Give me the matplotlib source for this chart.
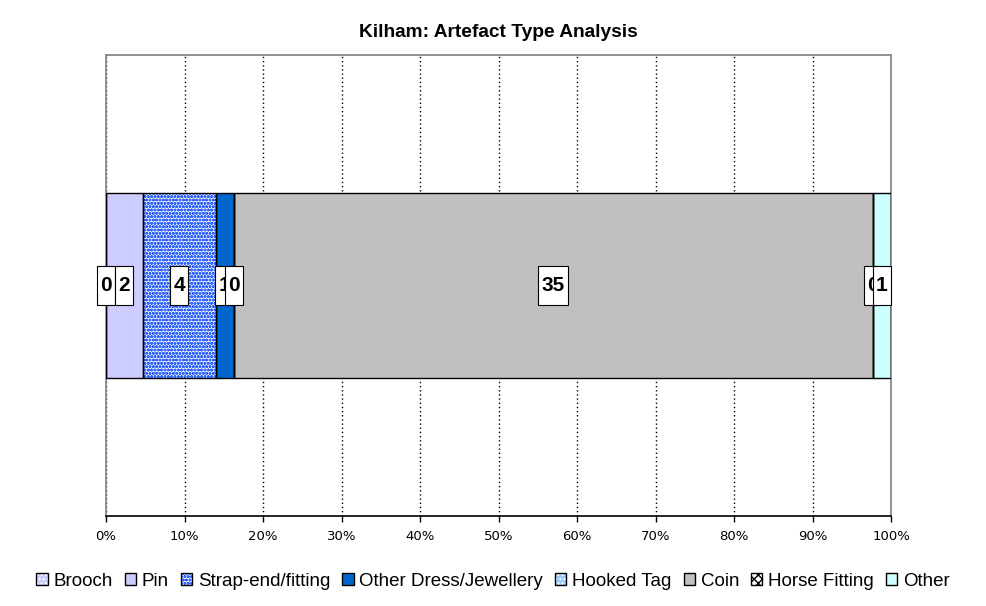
import matplotlib
matplotlib.use("Agg")
import matplotlib.pyplot as plt
import numpy as np
from matplotlib.path import Path
from matplotlib.legend_handler import HandlerTuple

plt.rcParams["font.family"] = ["Liberation Sans", "DejaVu Sans"]

categories = ["Brooch", "Pin", "Strap-end/fitting", "Other Dress/Jewellery",
              "Hooked Tag", "Coin", "Horse Fitting", "Other"]
counts = [0, 2, 4, 1, 0, 35, 0, 1]

# (face, hatch colour, hatch)
styles = [
    ("#CCCCFF", "white", "...."),
    ("#CCCCFF", None, None),
    ("white", "#3366FF", "ooooo"),
    ("#0066CC", None, None),
    ("#99CCFF", "white", "...."),
    ("#C0C0C0", None, None),
    ("white", "black", "xxxx"),
    ("#CCFFFF", None, None),
]


def label_box(x0, y0, width, height, mutation_size):
    # narrow side padding, tall box like the original labels
    padx = 0.16 * mutation_size
    h = 1.85 * mutation_size
    cy = y0 + height / 2
    x0, x1 = x0 - padx, x0 + width + padx
    y0, y1 = cy - h / 2, cy + h / 2
    return Path([(x0, y0), (x1, y0), (x1, y1), (x0, y1), (x0, y0)], closed=True)


fig = plt.figure(figsize=(9.86, 6.06), dpi=100)
ax = fig.add_axes([0.1075, 0.1485, 0.7962, 0.7605])

shares = np.array(counts) / sum(counts)
lefts = np.concatenate([[0], np.cumsum(shares)[:-1]])
handles = []
for i, (name, share, left) in enumerate(zip(categories, shares, lefts)):
    face, hcol, hatch = styles[i]
    if hatch:
        b1 = ax.barh(0.5, share, left=left, height=0.4, color=face,
                     edgecolor=hcol, hatch=hatch, linewidth=0, zorder=2)
    else:
        b1 = ax.barh(0.5, share, left=left, height=0.4, color=face,
                     linewidth=0, zorder=2)
    b2 = ax.barh(0.5, share, left=left, height=0.4, fill=False,
                 edgecolor="black", linewidth=1, zorder=3)
    handles.append((b1.patches[0], b2.patches[0]))

for i, (c, share, left) in enumerate(zip(counts, shares, lefts)):
    ax.text(left + share / 2, 0.5, str(c), ha="center", va="center",
            fontsize=15, fontweight="bold", zorder=10 + i,
            bbox=dict(boxstyle=label_box, facecolor="white",
                      edgecolor="black", linewidth=0.8))

ax.set_xlim(0, 1)
ax.set_ylim(0, 1)
ax.set_xticks(np.arange(0, 1.01, 0.1))
ax.set_xticklabels([f"{int(round(t * 100))}%" for t in np.arange(0, 1.01, 0.1)],
                   family="DejaVu Sans", fontsize=9.5)
ax.set_yticks([])
ax.tick_params(axis="x", length=4, width=1, color="black", pad=6)
ax.grid(axis="x", color="black", linestyle=(0, (1, 2)), linewidth=1, zorder=0)
ax.set_axisbelow(True)
for s in ["top", "left", "right"]:
    ax.spines[s].set_color("#808080")
    ax.spines[s].set_linewidth(1.2)
ax.spines["bottom"].set_color("black")
ax.spines["bottom"].set_linewidth(1.2)

ax.set_title("Kilham: Artefact Type Analysis", fontsize=13.8,
             fontweight="bold", pad=13)

fig.legend(handles, categories, handler_map={tuple: HandlerTuple(ndivide=1, pad=0)},
           loc="center", bbox_to_anchor=(0.5, 0.041), ncol=8, frameon=False,
           fontsize=13.5, handlelength=0.6, handleheight=0.6,
           handletextpad=0.3, columnspacing=0.65, borderaxespad=0)

fig.savefig("out.png", dpi=100)
